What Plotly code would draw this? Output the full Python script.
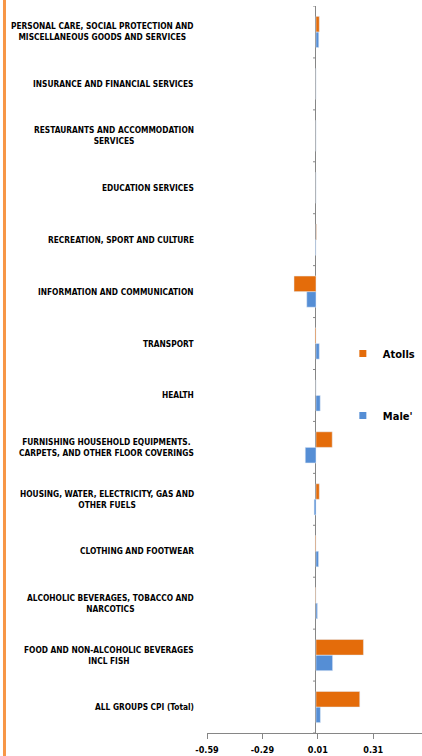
import plotly.graph_objects as go

categories = [
    "ALL GROUPS CPI (Total)",
    "FOOD AND NON-ALCOHOLIC BEVERAGES<br>INCL FISH",
    "ALCOHOLIC BEVERAGES, TOBACCO AND<br>NARCOTICS",
    "CLOTHING AND FOOTWEAR",
    "HOUSING, WATER, ELECTRICITY, GAS AND<br>OTHER FUELS",
    "FURNISHING HOUSEHOLD EQUIPMENTS.<br>CARPETS, AND OTHER FLOOR COVERINGS",
    "HEALTH",
    "TRANSPORT",
    "INFORMATION AND COMMUNICATION",
    "RECREATION, SPORT AND CULTURE",
    "EDUCATION SERVICES",
    "RESTAURANTS AND ACCOMMODATION<br>SERVICES",
    "INSURANCE AND FINANCIAL SERVICES",
    "PERSONAL CARE, SOCIAL PROTECTION AND<br>MISCELLANEOUS GOODS AND SERVICES",
]
atolls = [0.237, 0.257, -0.003, -0.004, 0.018, 0.088, 0.0, -0.005, -0.119, 0.003, 0.0, 0.0, 0.0, 0.018]
male = [0.024, 0.090, 0.008, 0.014, -0.010, -0.058, 0.023, 0.018, -0.050, -0.003, 0.0, 0.0, 0.0, 0.015]
x_ticks = [-0.59, -0.29, 0.01, 0.31]
x_tick_labels = ["-0.59", "-0.29", "0.01", "0.31"]

ORANGE = "#E46C0A"
BLUE = "#558ED5"
AXIS = "#868686"
FONT = "DejaVu Sans Condensed, DejaVu Sans, sans-serif"

fig = go.Figure()
fig.add_trace(go.Bar(y=categories, x=male, orientation="h", name="Male'",
                     marker=dict(color=BLUE), showlegend=False))
fig.add_trace(go.Bar(y=categories, x=atolls, orientation="h", name="Atolls",
                     marker=dict(color=ORANGE), showlegend=False))
# legend proxies
fig.add_trace(go.Scatter(x=[None], y=[None], mode="markers", name="Atolls", legendgroup="a",
                         marker=dict(symbol="square", size=7, color=ORANGE)))
fig.add_trace(go.Scatter(x=[None], y=[None], mode="markers", name="Male'", legendgroup="m",
                         marker=dict(symbol="square", size=7, color=BLUE)))

annotations = []
for c in categories:
    annotations.append(dict(x=0, xref="paper", y=c, yref="y", text=c, showarrow=False,
                            xanchor="right", align="center", xshift=-11,
                            font=dict(family=FONT, size=8.3, color="#000000", weight="bold")))

shapes = [dict(type="line", xref="paper", yref="paper", x0=-0.9419, x1=-0.9419,
               y0=-0.032, y1=1.0083, line=dict(color="#F79646", width=3))]
for i in range(len(categories) + 1):
    shapes.append(dict(type="line", xref="x", yref="y", x0=-0.016, x1=0,
                       y0=i - 0.5, y1=i - 0.5, line=dict(color=AXIS, width=1)))

fig.update_layout(
    width=422, height=756,
    margin=dict(l=207, r=0, t=6, b=23),
    paper_bgcolor="white", plot_bgcolor="white",
    barmode="group", bargap=0.4, bargroupgap=0,
    font=dict(family=FONT, color="#000000"),
    legend=dict(x=0.99, y=0.542, xanchor="right", yanchor="top",
                bgcolor="rgba(0,0,0,0)", tracegroupgap=43,
                font=dict(family=FONT, size=11, color="#000000", weight="bold")),
    annotations=annotations, shapes=shapes,
)
fig.update_xaxes(range=[-0.59, 0.574], tickvals=x_ticks, ticktext=x_tick_labels,
                 showgrid=False, zeroline=True, zerolinecolor=AXIS, zerolinewidth=1,
                 showline=True, linecolor=AXIS, linewidth=1,
                 ticks="outside", ticklen=5, tickcolor=AXIS, ticklabelstandoff=3,
                 tickfont=dict(family=FONT, size=9, color="#000000", weight="bold"))
fig.update_yaxes(showticklabels=False, showgrid=False, showline=False, zeroline=False,
                 range=[-0.5, len(categories) - 0.5])

fig.write_html("out.html", config={"displayModeBar": False},
               post_script="document.body.style.margin='0';")
